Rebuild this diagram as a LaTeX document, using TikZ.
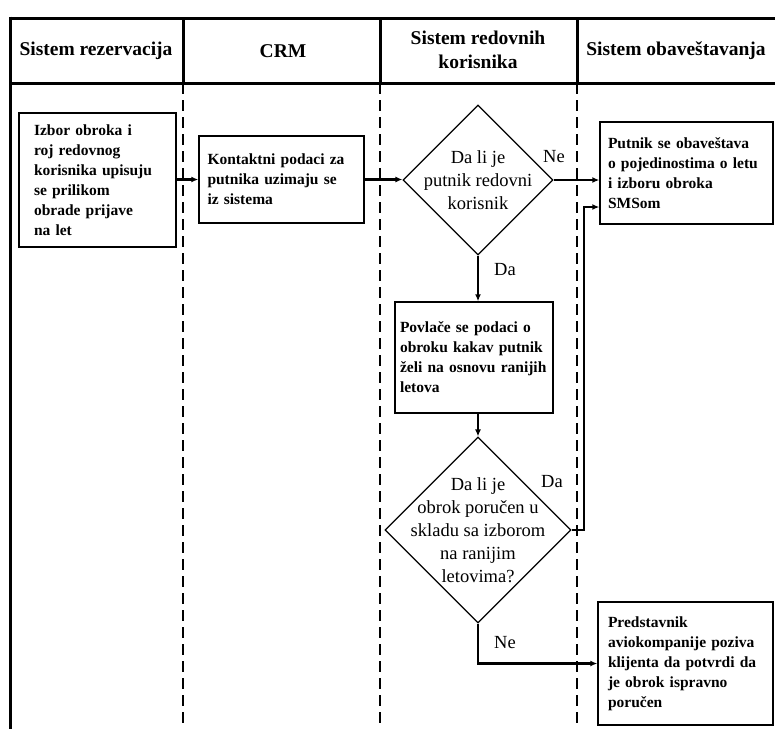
\documentclass[tikz,border=0pt]{standalone}
\usepackage{fontspec}
\setmainfont{Liberation Serif}
\usetikzlibrary{arrows.meta,shapes.geometric,positioning}

\tikzset{
  frame/.style={line width=3pt},
  lane/.style={line width=2.2pt,dash pattern=on 11pt off 6pt},
  head/.style={font=\fontsize{19.5}{24}\selectfont\bfseries,align=center},
  box/.style={draw,line width=1.4pt,align=left,inner sep=0pt,
    font=\fontsize{15.5}{20}\selectfont\bfseries},
  dec/.style={draw,shape=diamond,line width=1.2pt,inner sep=0pt},
  dectext/.style={font=\fontsize{18.5}{23}\selectfont,align=center},
  lbl/.style={font=\fontsize{18.5}{23}\selectfont},
  arr/.style={line width=2.6pt,-{Latex[length=7pt,width=6pt]}},
  ln/.style={line width=2.6pt}
}

\begin{document}
\begin{tikzpicture}[x=1pt,y=-1pt]
    \useasboundingbox (0,0) rectangle (775,729);

    % lanes
    \draw[frame] (10,18) -- (775,18);
    \draw[frame] (10,83) -- (775,83);
    \draw[frame] (10,16.5) -- (10,729);
    \foreach \x in {183,380,577} {
        \draw[frame] (\x,18) -- (\x,83);
        \draw[lane] (\x,83) -- (\x,729);
    }
    \node[head] (h1) at (96,51) {Sistem rezervacija};
    \node[head] (h2) at (283,51) {CRM};
    \node[head] (h3) at (478,50) {Sistem redovnih\\korisnika};
    \node[head] (h4) at (676,51) {Sistem obaveštavanja};

    % steps
    \node[box,minimum width=157pt,minimum height=134pt,text width=127pt] (b1) at (97.5,180)
        {Izbor obroka i\\roj redovnog\\korisnika upisuju\\se prilikom\\obrade prijave\\na let};
    \node[box,minimum width=165pt,minimum height=87pt,text width=148pt] (b2) at (281.5,179.5)
        {Kontaktni podaci za\\putnika uzimaju se\\iz sistema};
    \node[box,minimum width=173pt,minimum height=102pt,text width=157pt] (b3) at (686.5,173)
        {Putnik se obaveštava\\o pojedinostima o letu\\i izboru obroka\\SMSom};
    \node[box,minimum width=158pt,minimum height=111pt,text width=148pt] (b4) at (474,357.5)
        {Povlače se podaci o\\obroku kakav putnik\\želi na osnovu ranijih\\letova};
    \node[box,minimum width=175pt,minimum height=123pt,text width=155pt] (b5) at (685.5,663.5)
        {Predstavnik\\aviokompanije poziva\\klijenta da potvrdi da\\je obrok ispravno\\poručen};

    % decisions
    \node[dec,minimum width=150pt,minimum height=150pt] (d1) at (478,180) {};
    \node[dectext] (t1) at (d1.center) {Da li je\\putnik redovni\\korisnik};
    \node[dec,minimum width=186pt,minimum height=186pt] (d2) at (478,530) {};
    \node[dectext] (t2) at (d2.center) {Da li je\\obrok poručen u\\skladu sa izborom\\na ranijim\\letovima?};

    \coordinate (j1) at (584,207);

    % flow
    \draw[arr] (b2.west -| b1.east) -- (b2.west);
    \draw[arr] (b2.east) -- (b2.east -| d1.west);
    \draw[arr] (d1.east) -- (d1.east -| b3.west);
    \draw[arr] (d1.south) -- (d1.south |- b4.north);
    \draw[arr] (b4.south -| d2.north) -- (d2.north);
    \draw[arr] (d2.east) -| (j1) -- (j1 -| b3.west);
    \draw[arr] (d2.south) |- (b5.west);

    \node[lbl] (l1) at (554,157) {Ne};
    \node[lbl] (l2) at (505,270) {Da};
    \node[lbl] (l3) at (552,482) {Da};
    \node[lbl] (l4) at (505,643) {Ne};
\end{tikzpicture}
\end{document}
